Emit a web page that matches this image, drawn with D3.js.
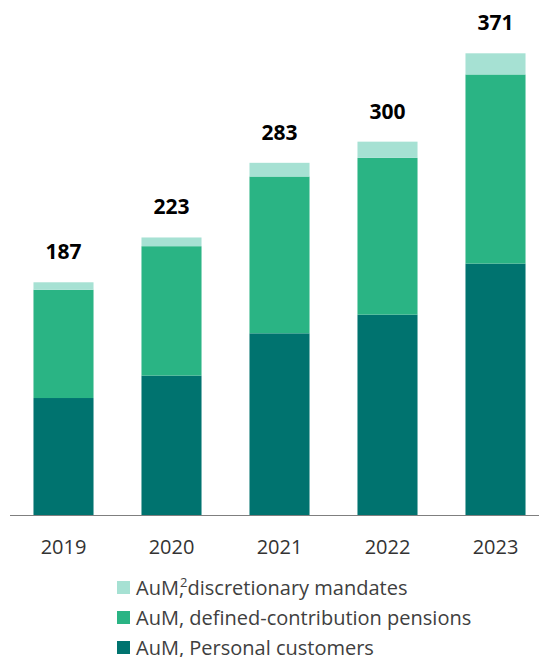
<!DOCTYPE html>
<html>
<head>
<meta charset="utf-8">
<script src="https://cdn.jsdelivr.net/npm/d3@7"></script>
<style>
  html, body { margin: 0; padding: 0; background: #fff; }
  svg { display: block; font-family: "Open Sans", "Noto Sans", sans-serif; }
</style>
</head>
<body>
<svg id="chart" width="539" height="657"></svg>
<script>
// Assets under management, stacked by segment (DKK bn)
const years = ["2019", "2020", "2021", "2022", "2023"];
const personalCustomers = [94, 112, 146, 161, 202];
const definedContribution = [87, 104, 126, 126, 152];
const discretionaryMandates = [6, 7, 11, 13, 17];
const totals = [187, 223, 283, 300, 371];

const seriesKeys = ["personal", "pension", "mandates"];
const seriesColors = { personal: "#00736f", pension: "#2ab484", mandates: "#a6e1d3" };

const rows = years.map((y, i) => ({
  year: y,
  personal: personalCustomers[i],
  pension: definedContribution[i],
  mandates: discretionaryMandates[i],
  total: totals[i]
}));

const svg = d3.select("#chart");
const baseY = 515;

const x = d3.scaleBand()
  .domain(years)
  .range([9.5, 549.5])
  .paddingInner(0.444)
  .paddingOuter(0.222);

const y = d3.scaleLinear()
  .domain([0, 371])
  .range([baseY, 53.3]);

const stacked = d3.stack().keys(seriesKeys)(rows);

svg.append("g")
  .selectAll("g")
  .data(stacked)
  .join("g")
  .attr("fill", d => seriesColors[d.key])
  .selectAll("rect")
  .data(d => d)
  .join("rect")
  .attr("x", d => x(d.data.year))
  .attr("width", x.bandwidth())
  .attr("y", d => y(d[1]))
  .attr("height", d => y(d[0]) - y(d[1]));

// Totals above each bar
svg.append("g")
  .selectAll("text")
  .data(rows)
  .join("text")
  .attr("x", d => x(d.year) + x.bandwidth() / 2)
  .attr("y", d => y(d.total) - 23)
  .attr("text-anchor", "middle")
  .attr("font-size", 21)
  .attr("font-weight", 700)
  .attr("fill", "#000")
  .text(d => d.total);

// Category axis
const xAxis = svg.append("g")
  .attr("transform", `translate(0,${baseY})`)
  .call(d3.axisBottom(x).tickSize(0).tickPadding(25));
xAxis.select(".domain").remove();
xAxis.append("line")
  .attr("x1", 10).attr("x2", 539)
  .attr("y1", 0.5).attr("y2", 0.5)
  .attr("stroke", "#7f7f7f")
  .attr("stroke-width", 1.2);
xAxis.selectAll(".tick text")
  .attr("font-size", 20)
  .attr("font-family", "'Open Sans', 'Noto Sans', sans-serif")
  .attr("fill", "#333");

// Legend
const legendItems = [
  { key: "mandates", label: "discretionary mandates", sup: true },
  { key: "pension", label: "AuM, defined-contribution pensions" },
  { key: "personal", label: "AuM, Personal customers" }
];
const legend = svg.append("g").attr("transform", "translate(117,581)");
const item = legend.selectAll("g")
  .data(legendItems)
  .join("g")
  .attr("transform", (d, i) => `translate(0,${i * 30})`);
item.append("rect")
  .attr("width", 13).attr("height", 13)
  .attr("fill", d => seriesColors[d.key]);
const label = item.append("text")
  .attr("x", 19).attr("y", 14)
  .attr("font-size", 20)
  .attr("fill", "#404040");
label.each(function(d) {
  const t = d3.select(this);
  if (d.sup) {
    t.append("tspan").text("AuM,");
    t.append("tspan").attr("dx", -4).attr("dy", -8).attr("font-size", 13).text("2");
    t.append("tspan").attr("dy", 8).text(d.label);
  } else {
    t.text(d.label);
  }
});
</script>
</body>
</html>
